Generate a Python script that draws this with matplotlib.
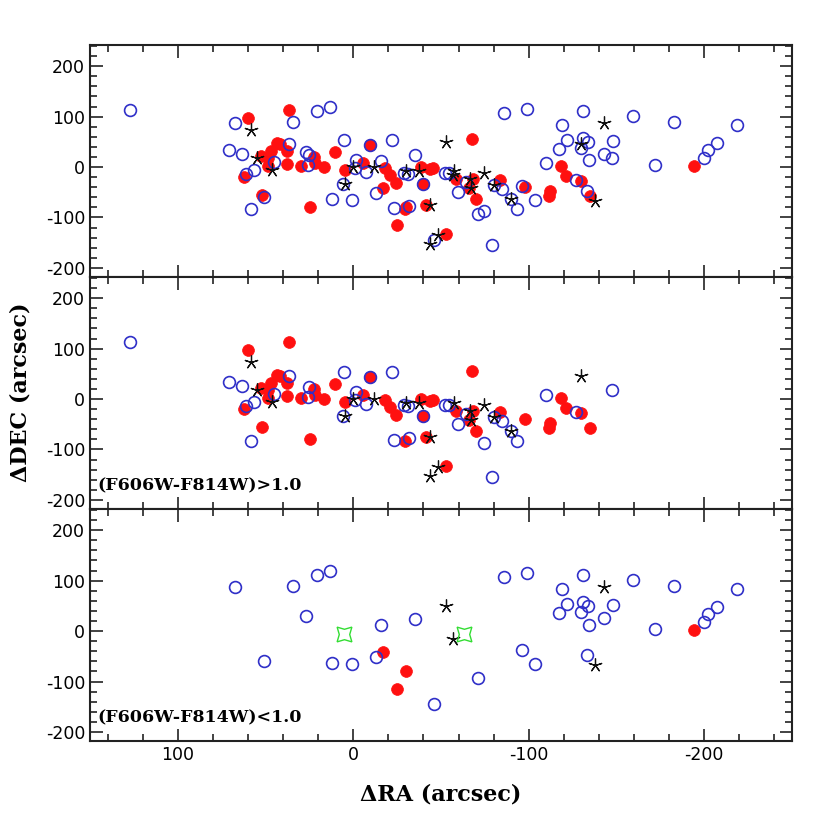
import matplotlib
matplotlib.use("Agg")
import matplotlib.pyplot as plt
from matplotlib.ticker import MultipleLocator

plt.rcParams['axes.unicode_minus'] = False

# (F606W-F814W) > 1.0 sample
red_hi_ra = [60, 36.4, 43.4, 42, 38, 47, 52.6, 48.8, 48.8, 62, 38, 30, 22.5, 21.7, 16.8,
             10.3, 52, 24.4, 4.6, -5.5, -9.3, -18, -20.8, -24.6, -38.5, -43.6, -45.5,
             -39.8, -58.3, -67.4, -68.4, -66, -69.7, -83.6, -98, -112, -111.7, -118.5,
             -121, -129.7, -135, -41.3, -29.7, -52.6]
red_hi_dec = [97, 114, 48, 45, 31, 31, 22, 17, 3, -20, 7, 3, 20, 8, 0,
              30, -55, -79, -5, 8, 43, -2, -15, -32, 0, -3, -2,
              -34, -23, 55, -23, -41, -64, -26, -40, -48, -58, 2,
              -18, -27, -58, -76, -84, -132]
blue_hi_ra = [127, 71, 63.4, 36.4, 45, 56.7, 61, 25, 26, 5.3, 58.3, 6, -1.7, -1, -7.4,
              -9.3, -22.3, -29, -31, -39.8, -52.2, -54.5, -59.8, -64, -74.5, -80, -85,
              -90, -93.5, -79.2, -110, -127, -147.4, -23, -32]
blue_hi_dec = [114, 34, 26, 46, 10, -5, -13, 23, 5, 53, -83, -33, 14, -2, -10,
               43, 54, -12, -13, -34, -12, -12, -50, -30, -87, -36, -43,
               -64, -83, -154, 8, -25, 18, -81, -78]
star_hi_ra = [58, 55, 46, 4.6, 0.2, -12, -30, -37.7, -57.5, -66.5, -67, -74.5, -80, -90,
              -44, -48.4, -44, -130]
star_hi_dec = [73, 18, -6, -33, 1, 0, -7, -7, -7, -23, -41, -12, -36, -64,
               -75, -134, -152, 46]

# (F606W-F814W) < 1.0 sample
red_lo_ra = [-17, -30.3, -25, -194]
red_lo_dec = [-42, -79, -115, 3]
blue_lo_ra = [67.4, 34.5, 20.6, 13, 27, -16, -35.4, 51, 12, 0.6, -13, -46, -71, -86, -99,
              -96, -103.6, -119, -121.7, -117, -131, -131, -134, -130, -134.5, -143, -148,
              -133, -159.6, -172, -183, -200, -202, -207, -218.5]
blue_lo_dec = [88, 90, 112, 120, 30, 12, 23, -60, -63, -65, -51, -145, -93, 108, 115,
               -37, -65, 83, 53, 35, 111, 57, 49, 38, 13, 25, 52,
               -48, 102, 4, 89, 18, 33, 47, 83]
star_lo_ra = [-53, -57, -143, -138]
star_lo_dec = [50, -15, 87, -67]
green_ra = [5, -63]
green_dec = [-5, -6]

BLUE = '#2f2fc8'
RED = '#ff1010'

fig, axes = plt.subplots(3, 1, figsize=(8.3, 8.3), dpi=100, sharex=True)
fig.subplots_adjust(left=0.1084, right=0.9542, top=0.9458, bottom=0.1072, hspace=0)

panels = [
    (red_hi_ra + red_lo_ra, red_hi_dec + red_lo_dec,
     blue_hi_ra + blue_lo_ra, blue_hi_dec + blue_lo_dec,
     star_hi_ra + star_lo_ra, star_hi_dec + star_lo_dec, None),
    (red_hi_ra, red_hi_dec, blue_hi_ra, blue_hi_dec, star_hi_ra, star_hi_dec,
     '(F606W-F814W)>1.0'),
    (red_lo_ra, red_lo_dec, blue_lo_ra, blue_lo_dec, star_lo_ra, star_lo_dec,
     '(F606W-F814W)<1.0'),
]

for i, (rx, ry, bx, by, sx, sy, label) in enumerate(panels):
    ax = axes[i]
    ax.plot(rx, ry, 'o', ms=8.5, mfc=RED, mec=RED, mew=0.5, ls='none')
    ax.plot(bx, by, 'o', ms=8.5, mfc='none', mec=BLUE, mew=1.2, ls='none')
    ax.plot(sx, sy, marker=(5, 2, 0), ms=10, color='#111111', mew=0.9, ls='none')
    if i == 2:
        ax.plot(green_ra, green_dec, marker=(4, 1, 45), ms=15, mfc='none',
                mec='#33dd33', mew=1.0, ls='none')
    if label:
        ax.text(0.01, 0.1, label, transform=ax.transAxes, fontsize=12.5,
                fontweight='bold', family='DejaVu Serif', va='center', ha='left')
    ax.set_xlim(150, -250)
    ax.set_ylim(-218, 242)
    ax.xaxis.set_major_locator(MultipleLocator(100))
    ax.xaxis.set_minor_locator(MultipleLocator(20))
    ax.yaxis.set_major_locator(MultipleLocator(100))
    ax.yaxis.set_minor_locator(MultipleLocator(20))
    ax.tick_params(which='both', direction='in', top=True, right=True,
                   labelsize=12.5, width=1.2, color='#222222')
    ax.tick_params(which='major', length=9)
    ax.tick_params(which='minor', length=5)
    for sp in ax.spines.values():
        sp.set_linewidth(1.5)
        sp.set_color('#222222')
    ax.set_yticks([-200, -100, 0, 100, 200])

axes[2].set_xlabel('ΔRA (arcsec)', fontsize=16, fontweight='bold',
                   family='DejaVu Serif', labelpad=14)
fig.text(0.025, 0.527, 'ΔDEC (arcsec)', rotation=90, fontsize=16,
         fontweight='bold', family='DejaVu Serif', va='center', ha='center')

fig.savefig('out.png', dpi=100)
